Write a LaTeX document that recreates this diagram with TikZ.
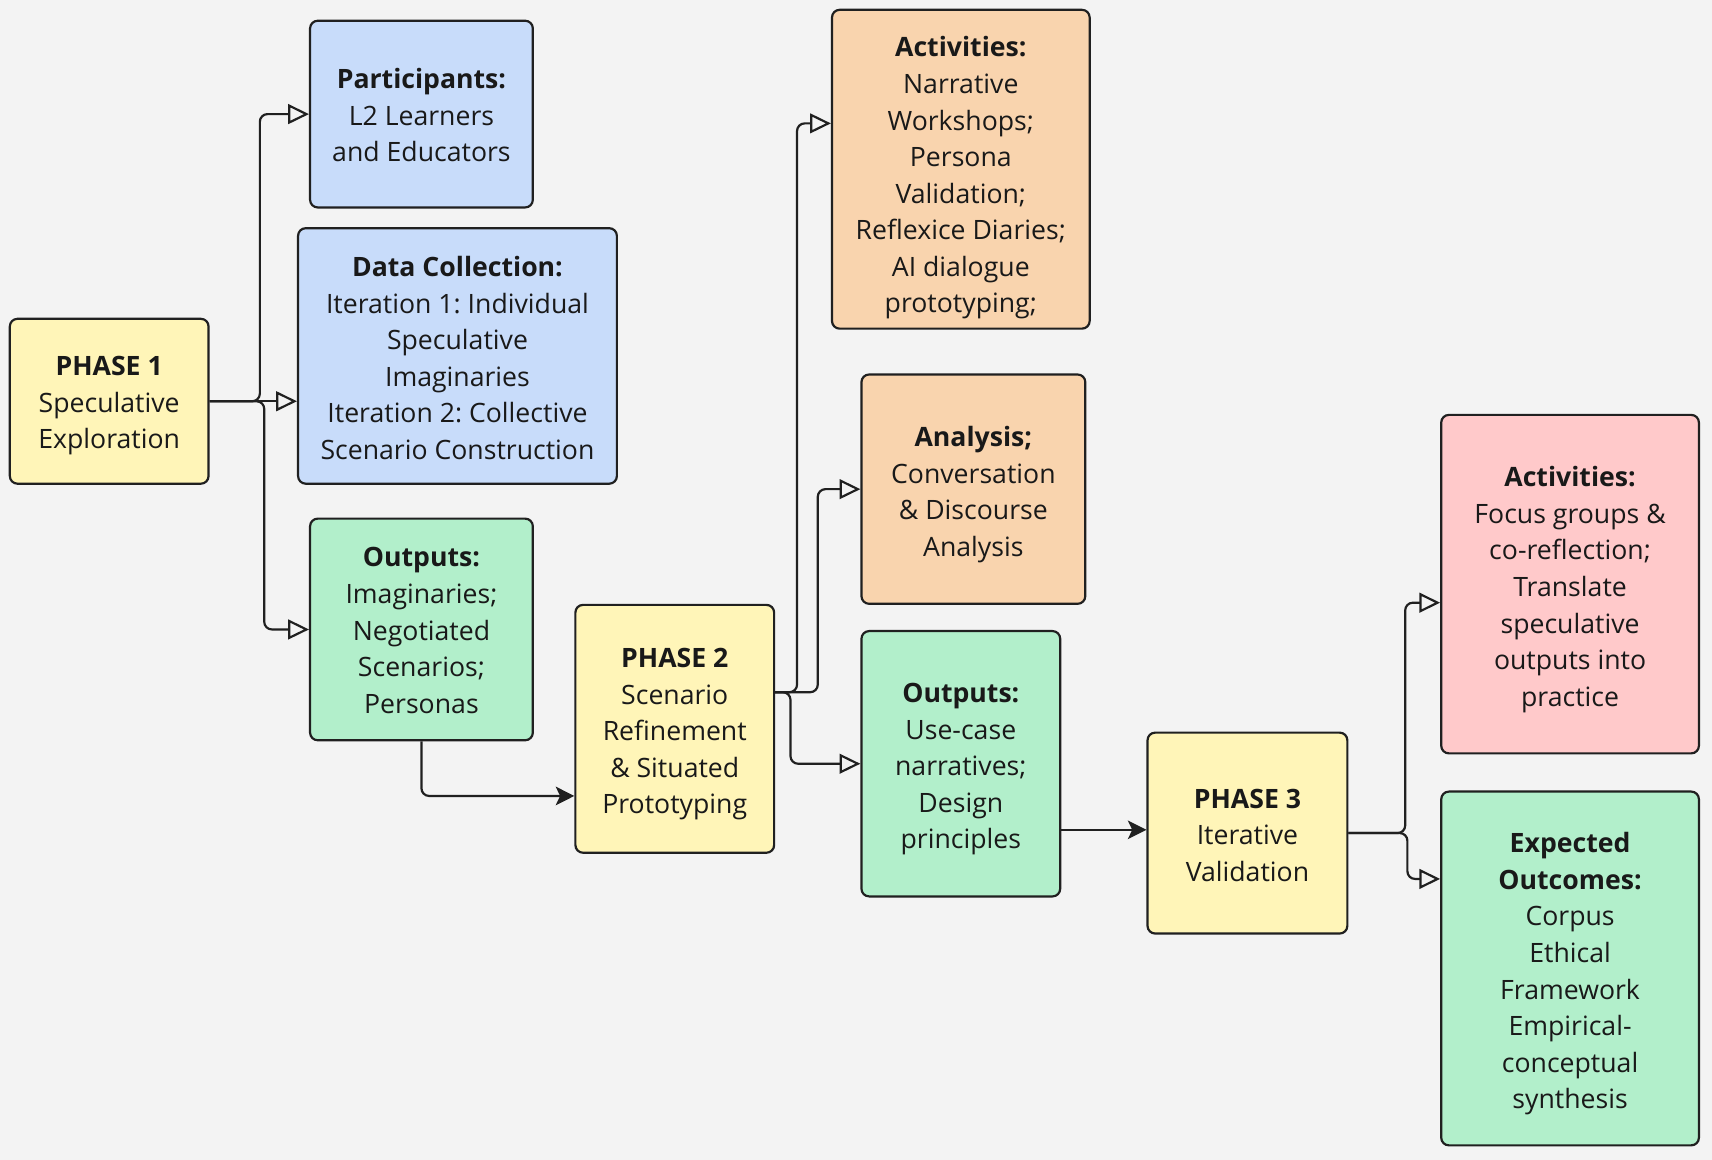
\documentclass[tikz,border=0pt]{standalone}
\usepackage{fontspec}
\setmainfont{Open Sans}
\frenchspacing
\usetikzlibrary{arrows.meta,calc}
\definecolor{bg}{HTML}{F3F3F3}
\definecolor{cyel}{HTML}{FFF5B8}
\definecolor{cblue}{HTML}{C8DCFA}
\definecolor{cgreen}{HTML}{B2EFCB}
\definecolor{corange}{HTML}{F9D4AE}
\definecolor{cpink}{HTML}{FFC9CA}
\definecolor{cline}{HTML}{202020}
\begin{document}
\begin{tikzpicture}[x=1pt,y=-1pt,
  box/.style={draw=cline, line width=2pt, rounded corners=7pt, inner sep=0pt},
  txt/.style={align=center, inner sep=0pt, font=\fontsize{24.4}{33.5}\selectfont, text=black!90},
  conn/.style={draw=cline, line width=2pt, rounded corners=7pt},
  oarrow/.style={conn, -{Triangle[open, length=19pt, width=18pt, line width=2pt]}},
  farrow/.style={conn, -{Stealth[length=17pt, width=17pt, inset=4pt]}}]
\fill[bg] (0,0) rectangle (1568,1062);
\useasboundingbox (0,0) rectangle (1568,1062);
% boxes
\node[box, fill=cyel, minimum width=182pt, minimum height=151pt] (p1) at (100,367.5) {};
\node[box, fill=cblue, minimum width=204pt, minimum height=171pt] (part) at (386,104.5) {};
\node[box, fill=cblue, minimum width=292pt, minimum height=234pt] (dc) at (419,326) {};
\node[box, fill=cgreen, minimum width=204pt, minimum height=203pt] (o1) at (386,576.5) {};
\node[box, fill=cyel, minimum width=182pt, minimum height=227pt] (p2) at (618,667.5) {};
\node[box, fill=corange, minimum width=236pt, minimum height=292pt] (act2) at (880,155) {};
\node[box, fill=corange, minimum width=205pt, minimum height=210pt] (an) at (891.5,448) {};
\node[box, fill=cgreen, minimum width=182pt, minimum height=243pt] (o2) at (880,699.5) {};
\node[box, fill=cyel, minimum width=183pt, minimum height=184pt] (p3) at (1142.5,763) {};
\node[box, fill=cpink, minimum width=236pt, minimum height=310pt] (act3) at (1438,535) {};
\node[box, fill=cgreen, minimum width=236pt, minimum height=324pt] (exp) at (1438,887) {};
% texts
\node[txt] (p1t) at ($(p1)+(0,4)$) {\textbf{PHASE 1}\\Speculative\\Exploration};
\node[txt] (partt) at ($(part)+(0,1)$) {\textbf{Participants:}\\L2 Learners\\and Educators};
\node[txt] (dct) at ($(dc)+(0,2)$) {\textbf{Data Collection:}\\Iteration 1: Individual\\Speculative\\Imaginaries\\Iteration 2: Collective\\Scenario Construction};
\node[txt] (o1t) at ($(o1)+(0,1)$) {\textbf{Outputs:}\\Imaginaries;\\Negotiated\\Scenarios;\\Personas};
\node[txt] (p2t) at ($(p2)+(0,5)$) {\textbf{PHASE 2}\\Scenario\\Refinement\\\& Situated\\Prototyping};
\node[txt] (act2t) at ($(act2)+(0,8)$) {\textbf{Activities:}\\Narrative\\Workshops;\\Persona\\Validation;\\Reflexice Diaries;\\AI dialogue\\prototyping;};
\node[txt] (ant) at ($(an)+(0,5)$) {\textbf{Analysis;}\\Conversation\\\& Discourse\\Analysis};
\node[txt] (o2t) at ($(o2)+(0,5)$) {\textbf{Outputs:}\\Use-case\\narratives;\\Design\\principles};
\node[txt] (p3t) at ($(p3)+(0,2)$) {\textbf{PHASE 3}\\Iterative\\Validation};
\node[txt] (act3t) at ($(act3)+(0,5)$) {\textbf{Activities:}\\Focus groups \&\\co-reflection;\\Translate\\speculative\\outputs into\\practice};
\node[txt] (expt) at ($(exp)+(0,5)$) {\textbf{Expected}\\\textbf{Outcomes:}\\Corpus\\Ethical\\Framework\\Empirical-\\conceptual\\synthesis};
% junction coordinates
\coordinate (j1a) at (p1.east -| 238,0);
\coordinate (j1b) at (p1.east -| 242,0);
\coordinate (p2out) at (p2.east |- 0,634);
\coordinate (j2a) at (730,634);
\coordinate (j2b) at (749,634);
\coordinate (j2c) at (724,634);
\coordinate (p2in) at (p2.west |- 0,729);
\coordinate (act2in) at (act2.west |- 0,113);
\coordinate (act3in) at (act3.west |- 0,552);
\coordinate (expin) at (exp.west |- 0,805);
\coordinate (j3a) at (p3.east -| 1287,0);
\coordinate (j3b) at (p3.east -| 1289,0);
% connectors
\draw[oarrow] (p1.east) -- (j1a) |- (part.west);
\draw[oarrow] (p1.east) -- (dc.west |- p1.east);
\draw[oarrow] (p1.east) -- (j1b) |- (o1.west);
\draw[farrow] (o1.south) |- (p2in);
\draw[oarrow] (p2out) -- (j2a) |- (act2in);
\draw[oarrow] (p2out) -- (j2b) |- (an.west);
\draw[oarrow] (p2out) -- (j2c) |- (o2.west);
\draw[farrow] (o2.east |- 0,760) -- (p3.west |- 0,760);
\draw[oarrow] (p3.east) -- (j3a) |- (act3in);
\draw[oarrow] (p3.east) -- (j3b) |- (expin);
\end{tikzpicture}
\end{document}
